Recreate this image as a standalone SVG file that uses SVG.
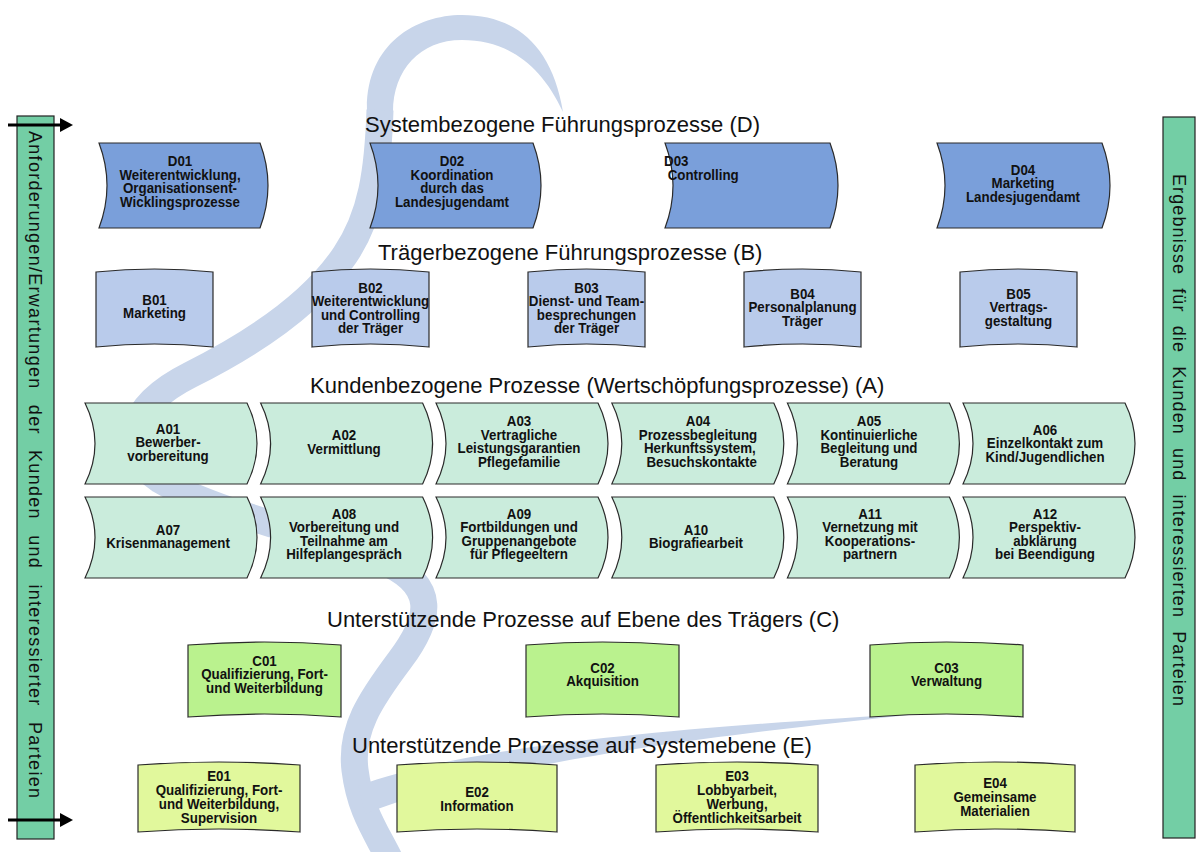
<svg xmlns="http://www.w3.org/2000/svg" width="1197" height="852" viewBox="0 0 1197 852">
<defs>
<style>
.d{fill:#7a9fda;stroke:#2a2a2a;stroke-width:1.2}
.b{fill:#b9cbeb;stroke:#2a2a2a;stroke-width:1.2}
.a{fill:#caecdc;stroke:#2a2a2a;stroke-width:1.2}
.c{fill:#baf28e;stroke:#2a2a2a;stroke-width:1.2}
.e{fill:#e1f89c;stroke:#2a2a2a;stroke-width:1.2}
.bar{fill:#73cea5;stroke:#222;stroke-width:1.2}
.t{font-family:"Liberation Sans",Arial,sans-serif;font-weight:bold;font-size:14.5px;text-anchor:middle;fill:#111}
.tl{text-anchor:start}
.h{font-family:"Liberation Sans",Arial,sans-serif;font-size:22px;fill:#111}
.v{font-family:"Liberation Sans",Arial,sans-serif;font-size:18px;fill:#111}
.sw{fill:none;stroke:#c8d5ea;stroke-width:27}
.swf{fill:#c8d5ea}
.arr{stroke:#000;stroke-width:3;fill:none}
</style>
<marker id="ah" markerUnits="userSpaceOnUse" markerWidth="13" markerHeight="14" refX="1" refY="7" orient="auto">
<path d="M0,0 L13,7 L0,14 Z" fill="#000"/>
</marker>
</defs>
<rect width="1197" height="852" fill="#fff"/>
<g id="background-swirl">
<path class="swf" d="M367,112 C365,45 415,15 462,15 C515,15 552,45 563,112 C540,62 505,40 462,40 C420,40 393,70 393,112 Z"/>
<path class="sw" d="M380,110 C378,170 372,215 345,255 C315,300 260,340 190,375 C130,405 115,450 160,480 C210,510 300,530 380,560 C440,585 430,620 400,660 C370,700 350,730 355,770 C360,810 375,830 390,860"/>
<path class="swf" d="M358,786 C450,752 620,730 930,713 C640,742 470,772 365,814 Z"/>
</g>
<g id="titles">
<text class="h" x="365" y="132">Systembezogene Führungsprozesse (D)</text>
<text class="h" x="378" y="260">Trägerbezogene Führungsprozesse (B)</text>
<text class="h" x="310" y="393">Kundenbezogene Prozesse (Wertschöpfungsprozesse) (A)</text>
<text class="h" x="327" y="627">Unterstützende Prozesse auf Ebene des Trägers (C)</text>
<text class="h" x="352" y="753">Unterstützende Prozesse auf Systemebene (E)</text>
</g>
<g id="side-left">
<rect class="bar" x="17" y="116" width="37" height="723"/>
<text class="v" transform="translate(29,131) rotate(90)" textLength="667" lengthAdjust="spacing" word-spacing="9">Anforderungen/Erwartungen der Kunden und interessierter Parteien</text>
</g>
<g id="side-right">
<rect class="bar" x="1163" y="117" width="32" height="721"/>
<text class="v" transform="translate(1172.5,174) rotate(90)" textLength="532" lengthAdjust="spacing" word-spacing="7">Ergebnisse für die Kunden und interessierten Parteien</text>
</g>
<g id="connectors">
<line class="arr" x1="8" y1="125" x2="61" y2="125" marker-end="url(#ah)"/>
<line class="arr" x1="8" y1="820" x2="61" y2="820" marker-end="url(#ah)"/>
</g>
<g id="D01"><path class="d" d="M99,143 H260 Q276,185.5 260,228 H99 Q115,185.5 99,143 Z"/>
<text class="t" transform="translate(180,0) scale(0.92,1)"><tspan x="0" y="166.5">D01</tspan><tspan x="0" y="180">Weiterentwicklung,</tspan><tspan x="0" y="193.5">Organisationsent-</tspan><tspan x="0" y="207">Wicklingsprozesse</tspan></text></g>
<g id="D02"><path class="d" d="M370,143 H533 Q549,185.5 533,228 H370 Q386,185.5 370,143 Z"/>
<text class="t" transform="translate(452,0) scale(0.92,1)"><tspan x="0" y="166.5">D02</tspan><tspan x="0" y="180">Koordination</tspan><tspan x="0" y="193.5">durch das</tspan><tspan x="0" y="207">Landesjugendamt</tspan></text></g>
<g id="D03"><path class="d" d="M665,143 H830 Q846,185.5 830,228 H665 Q681,185.5 665,143 Z"/>
<text class="t tl" transform="translate(664,0) scale(0.92,1)"><tspan x="0" y="166.5">D03</tspan><tspan x="4" y="180">Controlling</tspan></text></g>
<g id="D04"><path class="d" d="M937,143 H1102 Q1118,185.5 1102,228 H937 Q953,185.5 937,143 Z"/>
<text class="t" transform="translate(1023,0) scale(0.92,1)"><tspan x="0" y="175">D04</tspan><tspan x="0" y="188.5">Marketing</tspan><tspan x="0" y="202">Landesjugendamt</tspan></text></g>
<g id="B01"><path class="b" d="M96,272 Q154.5,266 213,272 V347 Q154.5,341 96,347 Z"/>
<text class="t" transform="translate(154.5,0) scale(0.92,1)"><tspan x="0" y="305">B01</tspan><tspan x="0" y="318.5">Marketing</tspan></text></g>
<g id="B02"><path class="b" d="M312,272 Q370.5,266 429,272 V347 Q370.5,341 312,347 Z"/>
<text class="t" transform="translate(370.5,0) scale(0.92,1)"><tspan x="0" y="293">B02</tspan><tspan x="0" y="306.5">Weiterentwicklung</tspan><tspan x="0" y="320">und Controlling</tspan><tspan x="0" y="333.5">der Träger</tspan></text></g>
<g id="B03"><path class="b" d="M528,272 Q586.5,266 645,272 V347 Q586.5,341 528,347 Z"/>
<text class="t" transform="translate(586.5,0) scale(0.92,1)"><tspan x="0" y="293">B03</tspan><tspan x="0" y="306.5">Dienst- und Team-</tspan><tspan x="0" y="320">besprechungen</tspan><tspan x="0" y="333.5">der Träger</tspan></text></g>
<g id="B04"><path class="b" d="M744,272 Q802.5,266 861,272 V347 Q802.5,341 744,347 Z"/>
<text class="t" transform="translate(802.5,0) scale(0.92,1)"><tspan x="0" y="299">B04</tspan><tspan x="0" y="312.5">Personalplanung</tspan><tspan x="0" y="326">Träger</tspan></text></g>
<g id="B05"><path class="b" d="M960,272 Q1018.5,266 1077,272 V347 Q1018.5,341 960,347 Z"/>
<text class="t" transform="translate(1018.5,0) scale(0.92,1)"><tspan x="0" y="299">B05</tspan><tspan x="0" y="312.5">Vertrags-</tspan><tspan x="0" y="326">gestaltung</tspan></text></g>
<g id="A01"><path class="a" d="M85,403 H247 Q267,443.5 247,484 H85 Q105,443.5 85,403 Z"/>
<text class="t" transform="translate(168,0) scale(0.92,1)"><tspan x="0" y="434">A01</tspan><tspan x="0" y="447.5">Bewerber-</tspan><tspan x="0" y="461">vorbereitung</tspan></text></g>
<g id="A02"><path class="a" d="M260.6,403 H422.6 Q442.6,443.5 422.6,484 H260.6 Q280.6,443.5 260.6,403 Z"/>
<text class="t" transform="translate(344,0) scale(0.92,1)"><tspan x="0" y="440.5">A02</tspan><tspan x="0" y="454">Vermittlung</tspan></text></g>
<g id="A03"><path class="a" d="M436,403 H598 Q618,443.5 598,484 H436 Q456,443.5 436,403 Z"/>
<text class="t" transform="translate(519,0) scale(0.92,1)"><tspan x="0" y="426.5">A03</tspan><tspan x="0" y="440">Vertragliche</tspan><tspan x="0" y="453.5">Leistungsgarantien</tspan><tspan x="0" y="467">Pflegefamilie</tspan></text></g>
<g id="A04"><path class="a" d="M611.8,403 H773.8 Q793.8,443.5 773.8,484 H611.8 Q631.8,443.5 611.8,403 Z"/>
<text class="t" transform="translate(698,0) scale(0.92,1)"><tspan x="0" y="426.5">A04</tspan><tspan x="0" y="440">Prozessbegleitung</tspan><tspan x="2" y="453.5">Herkunftssystem,</tspan><tspan x="4" y="467">Besuchskontakte</tspan></text></g>
<g id="A05"><path class="a" d="M787.4,403 H949.4 Q969.4,443.5 949.4,484 H787.4 Q807.4,443.5 787.4,403 Z"/>
<text class="t" transform="translate(869,0) scale(0.92,1)"><tspan x="0" y="426.5">A05</tspan><tspan x="0" y="440">Kontinuierliche</tspan><tspan x="0" y="453.5">Begleitung und</tspan><tspan x="0" y="467">Beratung</tspan></text></g>
<g id="A06"><path class="a" d="M963,403 H1125 Q1145,443.5 1125,484 H963 Q983,443.5 963,403 Z"/>
<text class="t" transform="translate(1045,0) scale(0.92,1)"><tspan x="0" y="435">A06</tspan><tspan x="0" y="448.5">Einzelkontakt zum</tspan><tspan x="0" y="462">Kind/Jugendlichen</tspan></text></g>
<g id="A07"><path class="a" d="M85,497 H247 Q267,537.5 247,578 H85 Q105,537.5 85,497 Z"/>
<text class="t" transform="translate(168,0) scale(0.92,1)"><tspan x="0" y="535">A07</tspan><tspan x="0" y="548.5">Krisenmanagement</tspan></text></g>
<g id="A08"><path class="a" d="M260.6,497 H422.6 Q442.6,537.5 422.6,578 H260.6 Q280.6,537.5 260.6,497 Z"/>
<text class="t" transform="translate(344,0) scale(0.92,1)"><tspan x="0" y="519">A08</tspan><tspan x="0" y="532.5">Vorbereitung und</tspan><tspan x="0" y="546">Teilnahme am</tspan><tspan x="0" y="559.5">Hilfeplangespräch</tspan></text></g>
<g id="A09"><path class="a" d="M436,497 H598 Q618,537.5 598,578 H436 Q456,537.5 436,497 Z"/>
<text class="t" transform="translate(519,0) scale(0.92,1)"><tspan x="0" y="519">A09</tspan><tspan x="0" y="532.5">Fortbildungen  und</tspan><tspan x="0" y="546">Gruppenangebote</tspan><tspan x="0" y="559.5">für Pflegeeltern</tspan></text></g>
<g id="A10"><path class="a" d="M611.8,497 H773.8 Q793.8,537.5 773.8,578 H611.8 Q631.8,537.5 611.8,497 Z"/>
<text class="t" transform="translate(696,0) scale(0.92,1)"><tspan x="0" y="535">A10</tspan><tspan x="0" y="548.5">Biografiearbeit</tspan></text></g>
<g id="A11"><path class="a" d="M787.4,497 H949.4 Q969.4,537.5 949.4,578 H787.4 Q807.4,537.5 787.4,497 Z"/>
<text class="t" transform="translate(870,0) scale(0.92,1)"><tspan x="0" y="519">A11</tspan><tspan x="0" y="532.5">Vernetzung mit</tspan><tspan x="0" y="546">Kooperations-</tspan><tspan x="0" y="559.5">partnern</tspan></text></g>
<g id="A12"><path class="a" d="M963,497 H1125 Q1145,537.5 1125,578 H963 Q983,537.5 963,497 Z"/>
<text class="t" transform="translate(1045,0) scale(0.92,1)"><tspan x="0" y="519">A12</tspan><tspan x="0" y="532.5">Perspektiv-</tspan><tspan x="0" y="546">abklärung</tspan><tspan x="0" y="559.5">bei Beendigung</tspan></text></g>
<g id="C01"><path class="c" d="M188,645 Q264.5,639 341,645 V717 Q264.5,711 188,717 Z"/>
<text class="t" transform="translate(264.5,0) scale(0.92,1)"><tspan x="0" y="666">C01</tspan><tspan x="0" y="679.5">Qualifizierung, Fort-</tspan><tspan x="0" y="693">und Weiterbildung</tspan></text></g>
<g id="C02"><path class="c" d="M526,645 Q602.5,639 679,645 V717 Q602.5,711 526,717 Z"/>
<text class="t" transform="translate(602.5,0) scale(0.92,1)"><tspan x="0" y="673">C02</tspan><tspan x="0" y="686.5">Akquisition</tspan></text></g>
<g id="C03"><path class="c" d="M870,645 Q946.5,639 1023,645 V717 Q946.5,711 870,717 Z"/>
<text class="t" transform="translate(946.5,0) scale(0.92,1)"><tspan x="0" y="673">C03</tspan><tspan x="0" y="686.5">Verwaltung</tspan></text></g>
<g id="E01"><path class="e" d="M138,765 Q219,759 300,765 V832 Q219,826 138,832 Z"/>
<text class="t" transform="translate(219,0) scale(0.92,1)"><tspan x="0" y="781">E01</tspan><tspan x="0" y="795">Qualifizierung, Fort-</tspan><tspan x="0" y="809">und Weiterbildung,</tspan><tspan x="0" y="823">Supervision</tspan></text></g>
<g id="E02"><path class="e" d="M397,765 Q477,759 557,765 V832 Q477,826 397,832 Z"/>
<text class="t" transform="translate(477,0) scale(0.92,1)"><tspan x="0" y="797">E02</tspan><tspan x="0" y="811">Information</tspan></text></g>
<g id="E03"><path class="e" d="M656,765 Q737,759 818,765 V832 Q737,826 656,832 Z"/>
<text class="t" transform="translate(737,0) scale(0.92,1)"><tspan x="0" y="781">E03</tspan><tspan x="0" y="795">Lobbyarbeit,</tspan><tspan x="0" y="809">Werbung,</tspan><tspan x="0" y="823">Öffentlichkeitsarbeit</tspan></text></g>
<g id="E04"><path class="e" d="M915,765 Q995,759 1075,765 V832 Q995,826 915,832 Z"/>
<text class="t" transform="translate(995,0) scale(0.92,1)"><tspan x="0" y="788">E04</tspan><tspan x="0" y="802">Gemeinsame</tspan><tspan x="0" y="816">Materialien</tspan></text></g>
</svg>
